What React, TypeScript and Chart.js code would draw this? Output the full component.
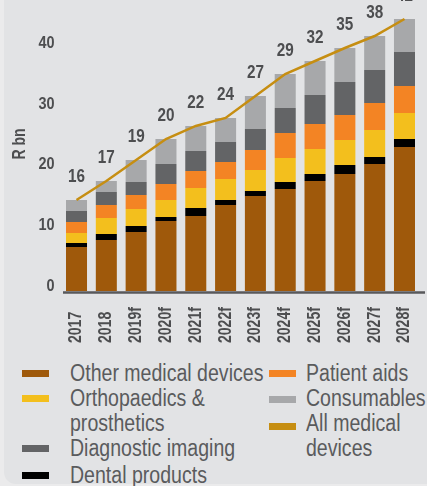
import React, { useEffect, useRef } from "react";
import { Chart, registerables } from "chart.js";

Chart.register(...registerables);

const categories = ["2017", "2018", "2019f", "2020f", "2021f", "2022f", "2023f", "2024f", "2025f", "2026f", "2027f", "2028f"];
const otherDevices = [7.26, 8.41, 9.73, 11.55, 12.37, 14.19, 15.67, 16.82, 18.14, 19.3, 20.95, 23.75];
const dentalProducts = [0.66, 0.99, 0.99, 0.66, 1.32, 0.82, 0.82, 1.15, 1.15, 1.48, 1.15, 1.32];
const orthopaedics = [1.65, 2.64, 2.8, 2.8, 3.3, 3.46, 3.46, 3.96, 4.12, 4.12, 4.45, 4.29];
const patientAids = [1.81, 2.14, 2.31, 2.64, 2.8, 2.8, 3.3, 4.12, 4.12, 4.12, 4.45, 4.45];
const diagnosticImaging = [1.81, 2.14, 2.14, 3.3, 3.3, 3.3, 3.46, 4.12, 4.78, 5.44, 5.44, 5.61];
const consumables = [1.81, 1.81, 3.63, 4.12, 4.12, 3.96, 5.44, 5.61, 5.61, 5.61, 5.61, 5.44];
const allDevicesLine = [15.01, 18.14, 21.61, 25.07, 27.22, 28.54, 32.16, 35.79, 37.94, 40.08, 42.06, 44.87];
const allDevicesLabels = ["16", "17", "19", "20", "22", "24", "27", "29", "32", "35", "38", "42"];
const yTicks = [0, 10, 20, 30, 40];

const seriesNames = {
  other: "Other medical devices",
  ortho: ["Orthopaedics &", "prosthetics"],
  diag: "Diagnostic imaging",
  dental: "Dental products",
  patient: "Patient aids",
  consum: "Consumables",
  all: ["All medical", "devices"],
};

const COLORS = {
  other: "#9f590b",
  dental: "#000000",
  ortho: "#f3bf1d",
  patient: "#f38424",
  diag: "#636466",
  consum: "#a7a8aa",
  line: "#c68e12",
  text: "#4d4e50",
  legend: "#5a5b5d",
};

const FONT = "'Liberation Sans', Arial, sans-serif";

function narrowText(ctx: any, text: string, x: number, y: number, sx: number, rotate = 0) {
  ctx.save();
  ctx.translate(x, y);
  if (rotate) ctx.rotate(rotate);
  ctx.scale(sx, 1);
  ctx.fillText(text, 0, 0);
  ctx.restore();
}

const overlayPlugin = {
  id: "overlay",
  afterDatasetsDraw(chart: any) {
    const ctx = chart.ctx;
    const xs = chart.scales.x;
    const ys = chart.scales.y;
    const area = chart.chartArea;
    ctx.save();
    // axis line
    ctx.strokeStyle = "#58595b";
    ctx.lineWidth = 2.5;
    ctx.beginPath();
    ctx.moveTo(63, area.bottom + 1.5);
    ctx.lineTo(425, area.bottom + 1.5);
    ctx.stroke();
    ctx.fillStyle = COLORS.text;
    // y tick labels
    ctx.font = `bold 17px ${FONT}`;
    ctx.textAlign = "right";
    ctx.textBaseline = "middle";
    yTicks.forEach((v) => {
      narrowText(ctx, String(v), 54.5, ys.getPixelForValue(v) - 5, 0.85);
    });
    // value labels
    const lineMeta = chart.getDatasetMeta(chart.data.datasets.length - 1);
    ctx.font = `bold 18px ${FONT}`;
    ctx.textAlign = "center";
    lineMeta.data.forEach((pt: any, i: number) => {
      narrowText(ctx, allDevicesLabels[i], pt.x, pt.y - 23, 0.85);
    });
    // x labels rotated, start-aligned
    ctx.font = `bold 18px ${FONT}`;
    ctx.textAlign = "left";
    categories.forEach((c, i) => {
      const x = xs.getPixelForValue(i);
      ctx.save();
      ctx.translate(x, 343);
      ctx.rotate(-Math.PI / 2);
      ctx.scale(0.78, 1);
      ctx.fillText(c, 0, 0);
      ctx.restore();
    });
    // y axis title
    ctx.font = `bold 18px ${FONT}`;
    ctx.textAlign = "center";
    ctx.save();
    ctx.translate(20, 144);
    ctx.rotate(-Math.PI / 2);
    ctx.scale(0.78, 1);
    ctx.fillText("R bn", 0, 0);
    ctx.restore();
    ctx.restore();
  },
};

export default function App() {
  const ref = useRef<HTMLCanvasElement>(null);
  useEffect(() => {
    document.body.style.margin = "0";
    document.body.style.background = "#ebebec";
    const barCommon = { type: "bar" as const, stack: "bars", order: 1, borderWidth: 0 };
    const chart = new Chart(ref.current!, {
      type: "bar",
      data: {
        labels: categories,
        datasets: [
          { ...barCommon, label: seriesNames.other, data: otherDevices, backgroundColor: COLORS.other },
          { ...barCommon, label: seriesNames.dental, data: dentalProducts, backgroundColor: COLORS.dental },
          { ...barCommon, label: seriesNames.ortho.join(" "), data: orthopaedics, backgroundColor: COLORS.ortho },
          { ...barCommon, label: seriesNames.patient, data: patientAids, backgroundColor: COLORS.patient },
          { ...barCommon, label: seriesNames.diag, data: diagnosticImaging, backgroundColor: COLORS.diag },
          { ...barCommon, label: seriesNames.consum, data: consumables, backgroundColor: COLORS.consum },
          {
            type: "line" as const,
            label: seriesNames.all.join(" "),
            data: allDevicesLine,
            stack: "line",
            order: 0,
            borderColor: COLORS.line,
            borderWidth: 2.5,
            pointRadius: 0,
            tension: 0,
            fill: false,
          } as any,
        ],
      },
      options: {
        animation: false,
        responsive: true,
        maintainAspectRatio: false,
        layout: { padding: { left: 61.6, right: 7.6, top: 0, bottom: 59 } },
        datasets: { bar: { categoryPercentage: 1, barPercentage: 0.705 } },
        plugins: { legend: { display: false }, tooltip: { enabled: false } },
        scales: {
          x: { display: false, stacked: true },
          y: { display: false, stacked: true, min: 0, max: 48 },
        },
      },
      plugins: [overlayPlugin],
    });
    return () => chart.destroy();
  }, []);

  const lineStyle: React.CSSProperties = {
    position: "absolute",
    fontFamily: FONT,
    fontSize: 23,
    lineHeight: "25px",
    color: COLORS.legend,
    whiteSpace: "nowrap",
    transform: "scaleX(0.85)",
    transformOrigin: "left center",
  };
  const textAt = (left: number, center: number, t: string) => (
    <div key={`${left}-${center}`} style={{ ...lineStyle, left, top: center - 12.5 }}>{t}</div>
  );
  const swatch = (left: number, center: number, color: string) => (
    <div key={`s-${left}-${center}`} style={{ position: "absolute", left, top: center - 3.5, width: 27, height: 7, background: color }} />
  );

  return (
    <div style={{ position: "relative", width: 427, height: 486, overflow: "hidden" }}>
      <div style={{ position: "absolute", left: 4, top: 0, width: 423, height: 484, background: "#e2e3e5", borderBottomLeftRadius: 12 }} />
      <div style={{ position: "absolute", left: 0, top: 0, width: 427, height: 350 }}>
        <canvas ref={ref} />
      </div>
      {swatch(22, 373, COLORS.other)}
      {textAt(70, 373, seriesNames.other)}
      {swatch(22, 398, COLORS.ortho)}
      {textAt(70, 398, seriesNames.ortho[0])}
      {textAt(70, 423, seriesNames.ortho[1])}
      {swatch(22, 448, COLORS.diag)}
      {textAt(70, 448, seriesNames.diag)}
      {swatch(22, 475, COLORS.dental)}
      {textAt(70, 475, seriesNames.dental)}
      {swatch(269, 373, COLORS.patient)}
      {textAt(306, 373, seriesNames.patient)}
      {swatch(269, 399, COLORS.consum)}
      {textAt(306, 398, seriesNames.consum)}
      {swatch(269, 426, COLORS.line)}
      {textAt(306, 423, seriesNames.all[0])}
      {textAt(306, 448, seriesNames.all[1])}
    </div>
  );
}
